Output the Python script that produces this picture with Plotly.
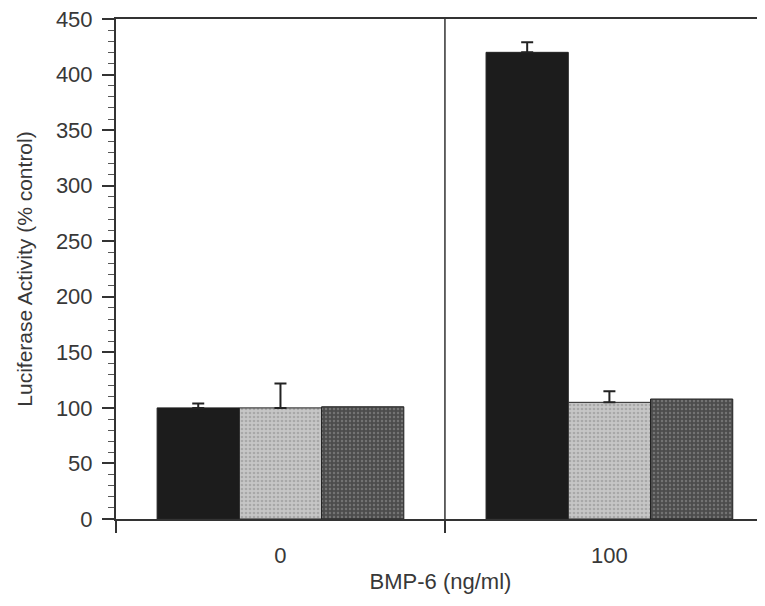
import plotly.graph_objects as go

categories = ["0", "100"]
series_names = ["A", "B", "C"]
values_a = [100, 420]
values_b = [100, 105]
values_c = [101, 108]
err_a = [4, 9]
err_b = [22, 10]
err_c = [0, 0]

y_ticks = [0, 50, 100, 150, 200, 250, 300, 350, 400, 450]

font = "Liberation Sans, Arial, sans-serif"

styles = [
    dict(color="#1c1c1c", pattern=None),
    dict(color="#c6c6c6", pattern=dict(shape=".", fgcolor="#8a8a8a", size=4, solidity=0.35)),
    dict(color="#4c4c4c", pattern=dict(shape=".", fgcolor="#9a9a9a", size=4, solidity=0.3)),
]

fig = go.Figure()
for name, vals, errs, st in zip(series_names, [values_a, values_b, values_c],
                                 [err_a, err_b, err_c], styles):
    marker = dict(color=st["color"], line=dict(color="#222222", width=1))
    if st["pattern"]:
        marker["pattern"] = st["pattern"]
    fig.add_trace(go.Bar(
        x=categories, y=vals, name=name, marker=marker,
        error_y=dict(type="data", array=errs, arrayminus=[0]*len(errs), symmetric=False,
                     color="#222222", thickness=2, width=6, visible=any(e > 0 for e in errs)),
        showlegend=False,
    ))

# divider between categories
fig.add_shape(type="line", xref="x", yref="paper", x0=0.5, x1=0.5, y0=0, y1=1,
              line=dict(color="#333333", width=1.5))

# page body has an 8px margin; compensate so plot area lands where the reference has it
fig.update_layout(
    width=757, height=598,
    margin=dict(l=108, r=0, t=11, b=87),
    paper_bgcolor="white", plot_bgcolor="white",
    barmode="group", bargap=0.25, bargroupgap=0,
    font=dict(family=font, size=22, color="#383838"),
)
fig.update_xaxes(
    type="category", range=[-0.5, 1.473],
    showline=True, linecolor="#333333", linewidth=2, mirror=True,
    ticks="outside", tickson="boundaries", ticklen=12, tickwidth=1.5, tickcolor="#333333",
    ticklabelstandoff=16,
    showgrid=False,
    title=dict(text="BMP-6 (ng/ml)", font=dict(size=22), standoff=6),
    tickfont=dict(size=22),
)
fig.update_yaxes(
    range=[0, 450], tickvals=y_ticks,
    showline=True, linecolor="#333333", linewidth=2,
    ticks="outside", ticklen=12, tickwidth=1.5, tickcolor="#333333",
    ticklabelstandoff=5, ticklabeloverflow="allow",
    minor=dict(dtick=10, ticks="outside", ticklen=6, tickwidth=1, tickcolor="#555555"),
    showgrid=False, zeroline=False,
    title=dict(text="Luciferase Activity (% control)", font=dict(size=21), standoff=18),
    tickfont=dict(size=22),
)

fig.write_html("out.html")
